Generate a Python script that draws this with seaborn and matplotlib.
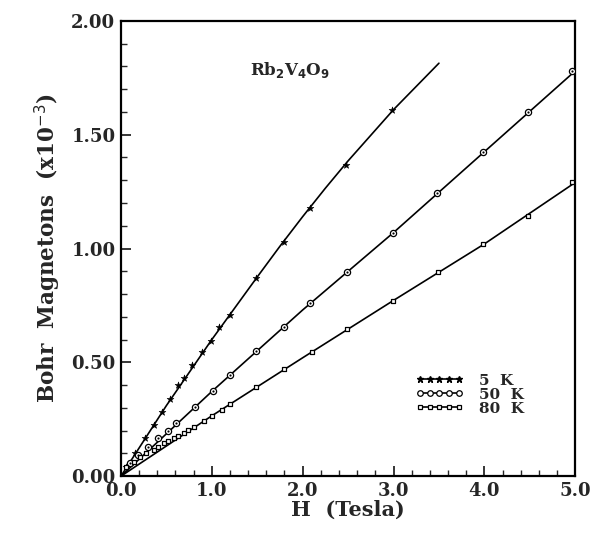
import matplotlib
matplotlib.use("Agg")
import matplotlib.pyplot as plt
import seaborn as sns
from matplotlib.lines import Line2D
from matplotlib.ticker import MultipleLocator, FormatStrFormatter

# ---- data ----
h_5K = [0.06, 0.15, 0.26, 0.36, 0.45, 0.54, 0.63, 0.69, 0.78, 0.89, 0.99, 1.08, 1.20, 1.49, 1.79, 2.08, 2.48, 2.98]
m_5K = [0.040, 0.100, 0.166, 0.224, 0.283, 0.337, 0.400, 0.432, 0.488, 0.547, 0.595, 0.654, 0.708, 0.870, 1.030, 1.180, 1.365, 1.609]

h_50K = [0.10, 0.19, 0.30, 0.41, 0.52, 0.61, 0.81, 1.01, 1.20, 1.49, 1.79, 2.08, 2.49, 2.99, 3.48, 3.98, 4.48, 4.97]
m_50K = [0.056, 0.092, 0.126, 0.166, 0.199, 0.232, 0.305, 0.374, 0.444, 0.551, 0.654, 0.762, 0.897, 1.067, 1.245, 1.423, 1.601, 1.780]

h_80K = [0.06, 0.14, 0.21, 0.28, 0.36, 0.41, 0.47, 0.52, 0.58, 0.63, 0.69, 0.74, 0.80, 0.91, 1.00, 1.11, 1.20,
         1.49, 1.79, 2.10, 2.49, 2.99, 3.49, 3.99, 4.48, 4.97]
m_80K = [0.041, 0.063, 0.082, 0.100, 0.117, 0.129, 0.144, 0.155, 0.166, 0.177, 0.190, 0.202, 0.217, 0.242, 0.265,
         0.290, 0.315, 0.393, 0.470, 0.547, 0.645, 0.771, 0.898, 1.018, 1.144, 1.290]

# fitted curves
fit_h_5K = [0, 0.5, 1.0, 1.5, 1.75, 2.0, 2.25, 2.5, 3.0, 3.5]
fit_m_5K = [0, 0.310, 0.600, 0.875, 1.010, 1.140, 1.265, 1.385, 1.610, 1.814]
fit_h_50K = [0, 1, 2, 3, 4, 5]
fit_m_50K = [0, 0.372, 0.730, 1.070, 1.425, 1.780]
fit_h_80K = [0, 1, 2, 3, 4, 5]
fit_m_80K = [0, 0.265, 0.520, 0.772, 1.020, 1.290]

labels = ["5  K", "50  K", "80  K"]
x_ticks = [0.0, 1.0, 2.0, 3.0, 4.0, 5.0]
y_ticks = [0.00, 0.50, 1.00, 1.50, 2.00]

# ---- figure ----
sns.set_theme(style="ticks")
plt.rcParams["font.family"] = ["DejaVu Serif"]
fig = plt.figure(figsize=(5.93, 5.35), dpi=100)
ax = fig.add_axes([0.204, 0.110, 0.766, 0.851])

for fh, fm in [(fit_h_5K, fit_m_5K), (fit_h_50K, fit_m_50K), (fit_h_80K, fit_m_80K)]:
    sns.lineplot(x=fh, y=fm, ax=ax, color="black", lw=1.2, sort=False, estimator=None, legend=False)

sns.scatterplot(x=h_5K, y=m_5K, ax=ax, marker="*", s=26, color="black", edgecolor="black", linewidth=0.4, zorder=3)
sns.scatterplot(x=h_50K, y=m_50K, ax=ax, marker="o", s=20, facecolor="white", edgecolor="black", linewidth=0.9, zorder=3)
sns.scatterplot(x=h_50K, y=m_50K, ax=ax, marker="o", s=2.5, color="black", linewidth=0, zorder=4)
sns.scatterplot(x=h_80K, y=m_80K, ax=ax, marker="s", s=10, facecolor="white", edgecolor="black", linewidth=0.9, zorder=3)

ax.set_xlim(0, 5.0)
ax.set_ylim(0, 2.0)
ax.set_xticks(x_ticks)
ax.set_yticks(y_ticks)
ax.xaxis.set_major_formatter(FormatStrFormatter("%.1f"))
ax.yaxis.set_major_formatter(FormatStrFormatter("%.2f"))
ax.xaxis.set_minor_locator(MultipleLocator(0.2))
ax.yaxis.set_minor_locator(MultipleLocator(0.1))
ax.tick_params(which="major", direction="in", length=7, width=1.3, labelsize=13, pad=4)
ax.tick_params(which="minor", direction="in", length=4, width=1.0)
for lab in ax.get_xticklabels() + ax.get_yticklabels():
    lab.set_fontweight("bold")
for sp in ax.spines.values():
    sp.set_linewidth(1.6)
    sp.set_color("black")

ax.set_xlabel("H  (Tesla)", fontsize=15, fontweight="bold", labelpad=0)
ax.set_ylabel("Bohr  Magnetons  (x10$^{-3}$)", fontsize=15.5, fontweight="bold", labelpad=6)

ax.text(1.42, 1.785, r"Rb$_\mathbf{2}$V$_\mathbf{4}$O$_\mathbf{9}$", fontsize=12, fontweight="bold", va="center", ha="left")

handles = [
    Line2D([0], [0], color="black", lw=1.2, marker="*", markersize=4.5, markerfacecolor="black"),
    Line2D([0], [0], color="black", lw=1.2, marker="o", markersize=4, markerfacecolor="white", markeredgewidth=0.9),
    Line2D([0], [0], color="black", lw=1.2, marker="s", markersize=3, markerfacecolor="white", markeredgewidth=0.9),
]
leg = ax.legend(handles, labels, loc="upper left", bbox_to_anchor=(0.617, 0.255), frameon=False,
                numpoints=5, handlelength=3.2, handletextpad=1.0, labelspacing=0.0,
                prop={"family": "DejaVu Serif", "weight": "bold", "size": 11})

fig.savefig("out.png", dpi=100)
